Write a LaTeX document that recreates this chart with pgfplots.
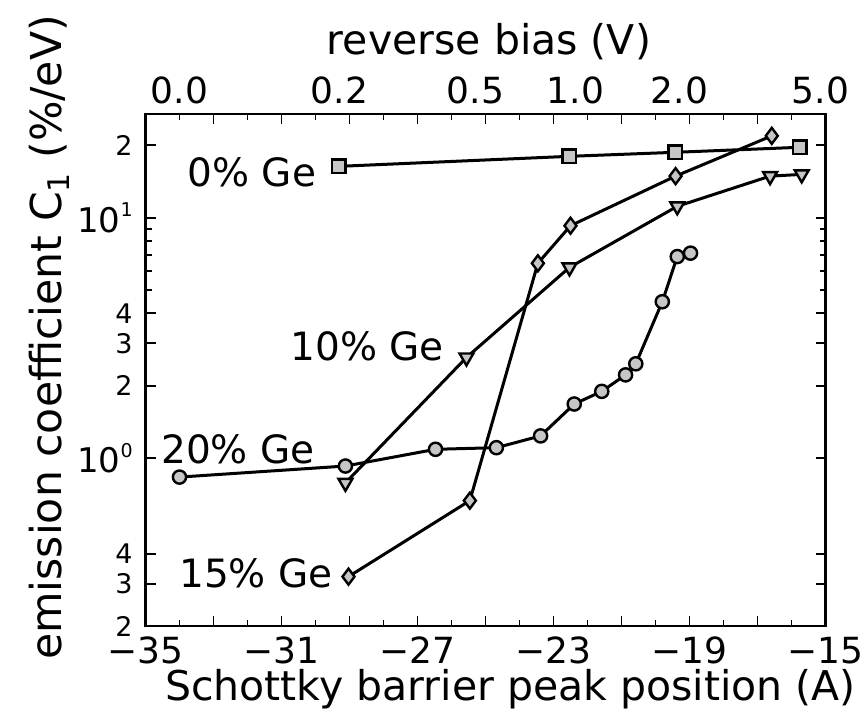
\documentclass[border=0pt]{standalone}
\usepackage{pgfplots}
\pgfplotsset{compat=1.18}
\usepackage{fontspec}
\setmainfont{DejaVu Sans}
\newcommand\tickf{\fontsize{18}{20}\selectfont}
\newcommand\titf{\fontsize{20.5}{23}\selectfont}
\newcommand\labf{\fontsize{19.5}{22}\selectfont}
\newcommand\dec[1]{\fontsize{17}{18}\selectfont 10\raisebox{0.45em}{\fontsize{9.5}{10}\selectfont #1}\hspace{5pt}}
\begin{document}
\begin{tikzpicture}
\path[use as bounding box] (-72.75pt,-46.5pt) rectangle (360.25pt,313pt);
\begin{axis}[
  at={(0,0)}, anchor=south west, scale only axis,
  width=340pt, height=256pt,
  xmin=-35, xmax=-15, ymode=log, ymin=0.2, ymax=27,
  axis line style={line width=1.4pt},
  xtick={-35,-33,...,-15},
  xticklabels={−35,,−31,,−27,,−23,,−19,,−15},
  minor x tick num=1,
  ytick={1,10},
  yticklabels={\dec{0},\dec{1}},
  extra y ticks={0.2,0.3,0.4,2,3,4,20},
  extra y tick labels={2,3,4,2,3,4,2},
  extra y tick style={yticklabel style={font=\fontsize{13.5}{14}\selectfont}},
  tick style={black, line width=0.9pt},
  major tick length=5pt, minor tick length=3pt,
  xticklabel style={font=\tickf, anchor=base, yshift=-18.5pt},
  yticklabel style={inner sep=0pt, anchor=east, xshift=-6.25pt},
  clip=false,
]
\addplot[black, line width=1.5pt, mark=square*, mark size=3.4pt, mark options={fill=gray!45, line width=1.2pt}]
  coordinates {(-29.32,16.35) (-22.53,18.0) (-19.42,18.71) (-15.76,19.63)};
\addplot[black, line width=1.5pt, mark=triangle*, mark size=4pt, mark options={rotate=180, fill=gray!45, line width=1.2pt}]
  coordinates {(-29.12,0.788) (-25.56,2.62) (-22.53,6.21) (-19.36,11.15) (-16.63,14.89) (-15.70,15.14)};
\addplot[black, line width=1.5pt, mark=diamond*, mark size=4pt, mark options={fill=gray!45, line width=1.2pt}]
  coordinates {(-29.03,0.321) (-25.46,0.665) (-23.46,6.46) (-22.50,9.26) (-19.41,14.89) (-16.58,21.9)};
\addplot[black, line width=1.5pt, mark=*, mark size=3.3pt, mark options={fill=gray!45, line width=1.2pt}]
  coordinates {(-34.00,0.833) (-29.12,0.926) (-26.47,1.087) (-24.68,1.104) (-23.38,1.236) (-22.39,1.678) (-21.58,1.894) (-20.88,2.218) (-20.58,2.466) (-19.80,4.47) (-19.36,6.89) (-18.97,7.12)};
\node[font=\labf] at (axis cs:-31.87,15.4) {0\% Ge};
\node[font=\labf] at (axis cs:-28.48,2.91) {10\% Ge};
\node[font=\labf] at (axis cs:-32.28,1.09) {20\% Ge};
\node[font=\labf] at (axis cs:-31.75,0.330) {15\% Ge};
\end{axis}
\begin{axis}[
  at={(0,0)}, anchor=south west, scale only axis,
  width=340pt, height=256pt,
  xmin=-35, xmax=-15, ymin=0, ymax=1,
  axis x line*=top, axis y line=none,
  axis line style={draw=none},
  xtick={-34,-29.3,-25.3,-22.35,-19.3,-15.15},
  xticklabels={0.0,0.2,0.5,1.0,2.0,5.0},
  major tick length=0pt,
  xticklabel style={font=\tickf, anchor=base, yshift=5pt},
]
\end{axis}
\node[font=\titf, anchor=base] at (171.75pt,285.5pt) {reverse bias (V)};
\node[font=\titf, anchor=base west] at (6.25pt,-37pt) {Schottky barrier peak position (A)};
\node[font=\fontsize{21.3}{24}\selectfont, rotate=90, anchor=base] at (-41.75pt,144.25pt) {emission coefficient C\textsubscript{1} (\%/eV)};
\end{tikzpicture}
\end{document}
